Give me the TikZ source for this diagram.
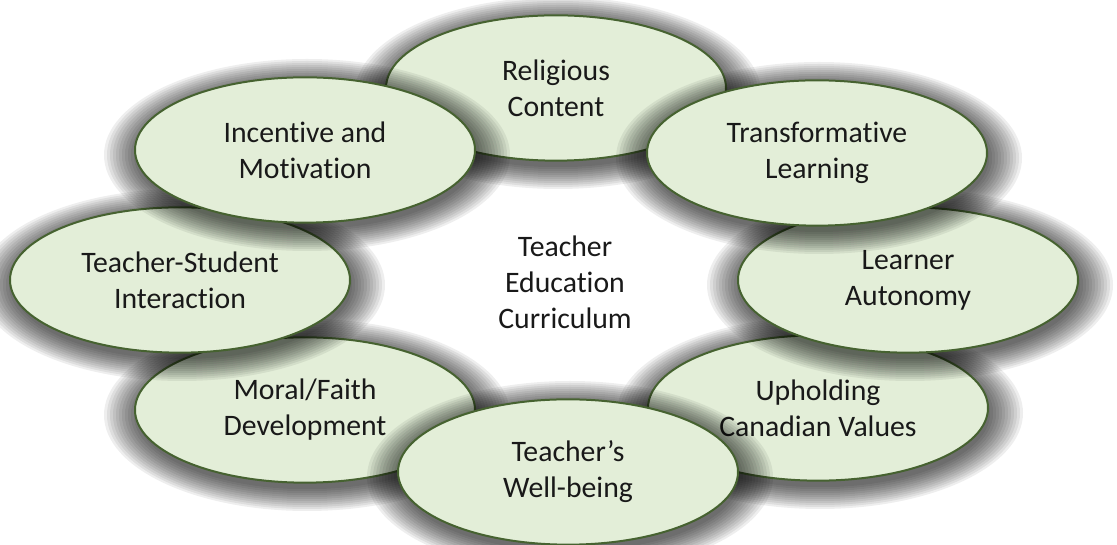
\documentclass[tikz,border=0pt]{standalone}
\usepackage{fontspec}
\setmainfont{Carlito}[Ligatures=NoCommon]
\usetikzlibrary{shapes.geometric}

\definecolor{leaf}{RGB}{227,238,216}
\definecolor{leafline}{RGB}{70,98,48}

\tikzset{
  bubble/.style={ellipse, draw=leafline, line width=1.5pt, fill=leaf,
    minimum width=255pt, minimum height=109pt, inner sep=0pt,
    align=center, text=black!90, font=\fontsize{22.3}{27}\selectfont},
  blot/.style={fill=black, opacity=0.065},
  hub/.style={align=center, text=black!90, font=\fontsize{22.3}{27}\selectfont}
}
% soft shadow as a stack of thin rings, then the bubble on top
\newcommand{\bubblenode}[3]{%
  \foreach \k in {0,...,11}
    \fill[blot, shift={(#2)}] (2,-5) ellipse ({170+3*\k} and {74+2*\k});
  \node[bubble] (#1) at (#2) {#3};}

\begin{document}
\begin{tikzpicture}[x=0.75pt,y=0.75pt]
  \fill[white] (0,0) rectangle (1117,545);
  \useasboundingbox (0,0) rectangle (1117,545);
  % back row first, so that the front shadows fall on it
  \bubblenode{religion}{556,457}{Religious\\Content}
  \bubblenode{moral}{305,135}{Moral/Faith\\Development}
  \bubblenode{values}{818,137}{Upholding\\Canadian Values}
  \bubblenode{wellbeing}{568,73}{Teacher’s\\Well-being}
  \bubblenode{interaction}{180,265}{Teacher-Student\\Interaction}
  \bubblenode{autonomy}{908,265}{Learner\\Autonomy}
  \bubblenode{incentive}{305,395}{Incentive and\\Motivation}
  \bubblenode{transform}{817,392}{Transformative\\Learning}
  \node[hub] (curriculum) at (565,263) {Teacher\\Education\\Curriculum};
\end{tikzpicture}
\end{document}
